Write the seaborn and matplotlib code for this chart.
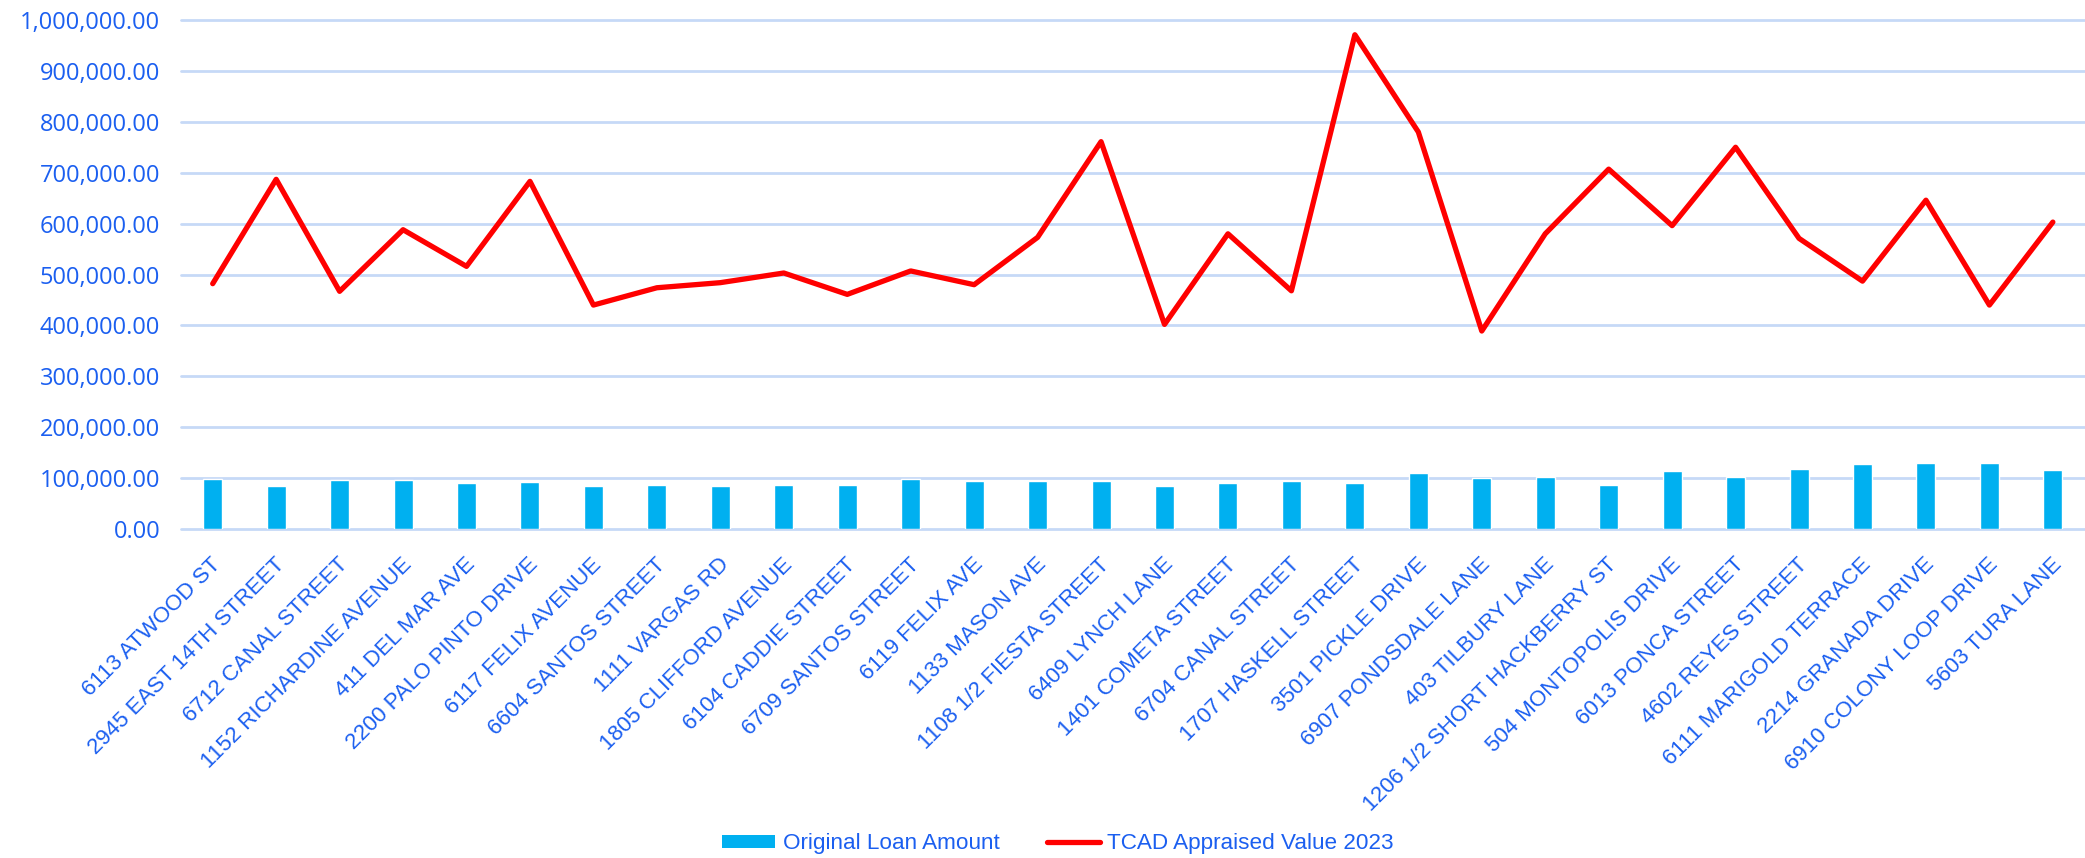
import matplotlib
matplotlib.use("Agg")
import matplotlib.pyplot as plt
from matplotlib.patches import Patch
from matplotlib.lines import Line2D
from matplotlib.ticker import FuncFormatter
from matplotlib.transforms import ScaledTranslation
import seaborn as sns
import pandas as pd
import numpy as np

addresses = [
    "6113 ATWOOD ST", "2945 EAST 14TH STREET", "6712 CANAL STREET",
    "1152 RICHARDINE AVENUE", "411 DEL MAR AVE", "2200 PALO PINTO DRIVE",
    "6117 FELIX AVENUE", "6604 SANTOS STREET", "1111 VARGAS RD",
    "1805 CLIFFORD AVENUE", "6104 CADDIE STREET", "6709 SANTOS STREET",
    "6119 FELIX AVE", "1133 MASON AVE", "1108 1/2 FIESTA STREET",
    "6409 LYNCH LANE", "1401 COMETA STREET", "6704 CANAL STREET",
    "1707 HASKELL STREET", "3501 PICKLE DRIVE", "6907 PONDSDALE LANE",
    "403 TILBURY LANE", "1206 1/2 SHORT HACKBERRY ST", "504 MONTOPOLIS DRIVE",
    "6013 PONCA STREET", "4602 REYES STREET", "6111 MARIGOLD TERRACE",
    "2214 GRANADA DRIVE", "6910 COLONY LOOP DRIVE", "5603 TURA LANE",
]

loan_amount = [
    99000, 84500, 95800, 95800, 90800, 92900, 84500, 86600, 84500, 85900,
    85900, 97800, 95100, 93700, 93700, 85200, 90100, 94300, 90800, 109700,
    99900, 102700, 85900, 113200, 102700, 118800, 127200, 129300, 129300, 115300,
]

appraised_2023 = [
    482000, 687000, 467000, 588000, 516000, 683000, 440000, 474000, 484000, 503000,
    461000, 507000, 480000, 573000, 761000, 402000, 580000, 468000, 971000, 780000,
    389000, 580000, 707000, 596000, 750000, 571000, 487000, 646000, 440000, 603000,
]

series_names = ["Original Loan Amount", "TCAD Appraised Value 2023"]

df = pd.DataFrame({"address": addresses, "loan": loan_amount, "appraised": appraised_2023})

TEXT_BLUE = "#1b5ff0"
BAR_BLUE = "#00b0f0"
LINE_RED = "#ff0000"
GRID = "#c6d9f7"

sns.set_theme(style="white")
plt.rcParams["font.family"] = ["Liberation Sans", "DejaVu Sans"]

fig = plt.figure(figsize=(20.85, 8.58), dpi=100)
ax = fig.add_axes([0.0868, 0.3834, 0.9130, 0.5933])

sns.barplot(data=df, x="address", y="loan", color=BAR_BLUE, width=0.3,
            saturation=1, errorbar=None, ax=ax, zorder=3)
sns.lineplot(x=np.arange(len(df)), y=df["appraised"].to_numpy(), color=LINE_RED,
             linewidth=3.8, ax=ax, zorder=4, solid_joinstyle="round",
             solid_capstyle="round")

ax.set_xlim(-0.5, len(df) - 0.5)
ax.set_ylim(0, 1_000_000)
ax.set_yticks(np.arange(0, 1_000_001, 100_000))
ax.yaxis.set_major_formatter(FuncFormatter(lambda v, _: f"{v:,.2f}"))
ax.grid(axis="y", color=GRID, linewidth=2, zorder=0)
ax.grid(axis="x", visible=False)
for gl in ax.get_ygridlines():
    gl.set_clip_on(False)
for s in ax.spines.values():
    s.set_visible(False)

ax.set_xlabel("")
ax.set_ylabel("")
ax.tick_params(axis="both", length=0)
ax.tick_params(axis="y", pad=15)
ax.tick_params(axis="x", pad=18)

for lbl in ax.get_yticklabels():
    lbl.set_fontfamily(["Open Sans", "DejaVu Sans"])
    lbl.set_fontsize(17)
    lbl.set_color(TEXT_BLUE)

ax.set_xticks(range(len(df)))
ax.set_xticklabels(addresses, rotation=45, ha="right", va="top",
                   rotation_mode="anchor", fontsize=16, color=TEXT_BLUE,
                   family=["Liberation Sans", "DejaVu Sans"])
shift = ScaledTranslation(-2 / 100, 0, fig.dpi_scale_trans)
for lbl in ax.get_xticklabels():
    lbl.set_transform(lbl.get_transform() + shift)

handles = [
    Patch(facecolor=BAR_BLUE, edgecolor="none"),
    Line2D([0], [0], color=LINE_RED, linewidth=3.8, solid_capstyle="round"),
]
leg = fig.legend(handles, series_names, loc="center",
                 bbox_to_anchor=(1058 / 2085, 1 - 844 / 858),
                 ncol=2, frameon=False, handlelength=2.35, handleheight=0.55,
                 columnspacing=2.1, handletextpad=0.35,
                 prop={"family": ["Liberation Sans", "DejaVu Sans"], "size": 16.2})
for t in leg.get_texts():
    t.set_color(TEXT_BLUE)

fig.savefig("out.png", dpi=100)
